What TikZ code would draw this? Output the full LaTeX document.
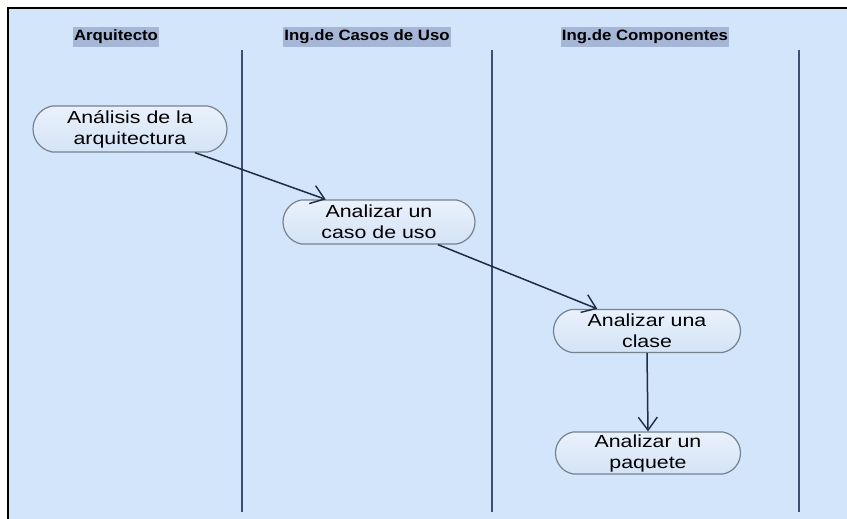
\documentclass[tikz,border=0pt]{standalone}
\usepackage{fontspec}
\setmainfont{Liberation Sans}
\newfontfamily\nodefont{Liberation Sans}[FakeStretch=1.22]
\newfontfamily\headfont{Liberation Sans Bold}[FakeStretch=1.12]
\usetikzlibrary{shapes.misc,arrows.meta}
\definecolor{bgblue}{HTML}{D2E5FA}
\definecolor{headbg}{HTML}{A6B6D6}
\definecolor{laneline}{HTML}{3E5070}
\definecolor{nodefill}{HTML}{D4E3F7}
\definecolor{nodeborder}{HTML}{76828F}
\definecolor{arrowcol}{HTML}{1E2C44}
\tikzset{
  activity/.style={rounded rectangle, rounded rectangle arc length=160, draw=nodeborder, line width=1.2pt,
    top color=nodefill!50!white, bottom color=nodefill, minimum width=190pt, minimum height=45pt,
    inner sep=0pt, align=center, font=\nodefont\fontsize{17.5}{21}\selectfont},
  lanehead/.style={fill=headbg, inner xsep=1pt, inner ysep=3pt, font=\headfont\fontsize{15}{16}\selectfont},
  laneline/.style={draw=laneline, line width=1.8pt},
  flow/.style={draw=arrowcol, line width=1.5pt, -{Straight Barb[length=13pt,width=19pt,line width=1.4pt]}}
}
\begin{document}
\begin{tikzpicture}[x=1pt,y=-1pt]
\useasboundingbox (0,0) rectangle (847,519);
\fill[white] (0,0) rectangle (847,519);
\fill[bgblue] (8,8) rectangle (847,519);
\draw[black, line width=2.6pt] (8,519) -- (8,8) -- (847,8);
% lane headers
\node[lanehead] (h1) at (116,37) {Arquitecto};
\node[lanehead] (h2) at (367,37) {Ing.de Casos de Uso};
\node[lanehead] (h3) at (645,37) {Ing.de Componentes};
% lane separators
\coordinate (l1t) at (242,50); \coordinate (l1b) at (242,512);
\coordinate (l2t) at (492,50); \coordinate (l2b) at (492,512);
\coordinate (l3t) at (799,50); \coordinate (l3b) at (799,512);
\draw[laneline] (l1t) -- (l1b);
\draw[laneline] (l2t) -- (l2b);
\draw[laneline] (l3t) -- (l3b);
% activities
\node[activity, minimum width=194pt, minimum height=46pt] (n1) at (130,129) {Análisis de la\\arquitectura};
\node[activity, minimum width=192pt, minimum height=44pt] (n2) at (379,222) {Analizar un\\caso de uso};
\node[activity, minimum width=187pt, minimum height=43pt] (n3) at (647,331) {Analizar una\\clase};
\node[activity, minimum width=185pt, minimum height=42pt] (n4) at (648,453) {Analizar un\\paquete};
% flows
\draw[flow] (n1.-20) -- (n2.157);
\draw[flow] (n2.-21) -- (n3.156);
\draw[flow, xshift=5pt] (n3.south) -- (n4.north);
\end{tikzpicture}
\end{document}
